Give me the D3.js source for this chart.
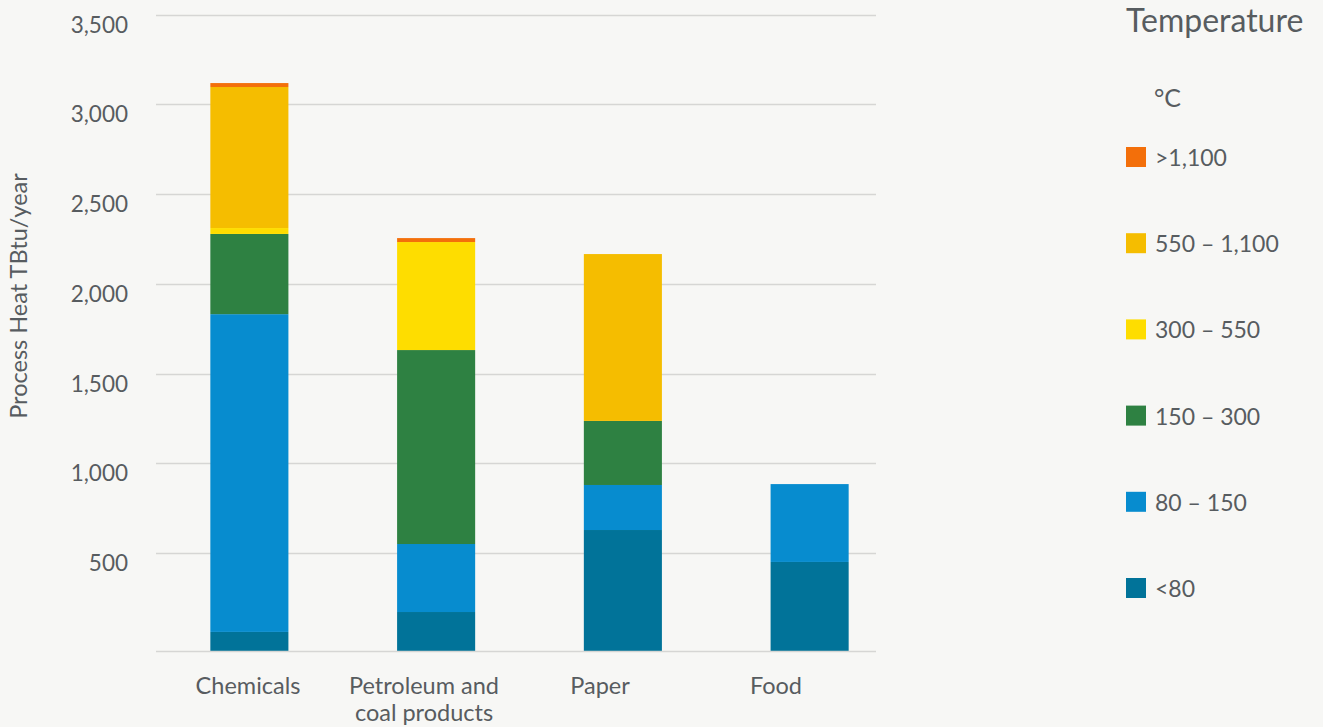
<!DOCTYPE html>
<html>
<head>
<meta charset="utf-8">
<script src="https://cdn.jsdelivr.net/npm/d3@7"></script>
<style>
  html, body { margin: 0; padding: 0; background: #f7f7f5; }
  svg { display: block; font-family: Lato, "Open Sans", sans-serif; }
</style>
</head>
<body>
<div id="chart"></div>
<script>
// industries on the x axis
const categories = ["Chemicals", "Petroleum and\ncoal products", "Paper", "Food"];

// process heat (TBtu/year) per temperature band, one value per industry
const lt80      = [60, 171, 628, 450];
const t80_150   = [1771, 379, 251, 434];
const t150_300  = [447, 1081, 357, 0];
const t300_550  = [33, 602, 0, 0];
const t550_1100 = [786, 0, 930, 0];
const gt1100    = [22, 22, 0, 0];

// legend order is top to bottom, stack order is bottom to top
const bandKeys   = ["<80", "80 – 150", "150 – 300", "300 – 550", "550 – 1,100", ">1,100"];
const bandValues = [lt80, t80_150, t150_300, t300_550, t550_1100, gt1100];
const bandColors = ["#017399", "#078ccf", "#2e8142", "#fedd00", "#f5bd00", "#f36f0a"];

const yTicks = [500, 1000, 1500, 2000, 2500, 3000, 3500];

const width = 1323, height = 727;
const textColor = "#575c60";

const rows = categories.map((c, i) => {
    const row = { category: c };
    bandKeys.forEach((k, j) => row[k] = bandValues[j][i]);
    return row;
});

const svg = d3.select("#chart").append("svg")
    .attr("width", width)
    .attr("height", height);

const plotLeft = 156, plotRight = 876, plotBottom = 651;

const x = d3.scaleBand()
    .domain(categories)
    .range([plotLeft, 903])
    .paddingInner(0.582)
    .paddingOuter(0.291);

// category labels sit a little left of the bars in the original
const xLabel = d3.scalePoint()
    .domain(categories)
    .range([248, 776]);

const y = d3.scaleLinear()
    .domain([0, 3500])
    .range([642.7, 14.7]);

const color = d3.scaleOrdinal().domain(bandKeys).range(bandColors);

// gridlines
svg.append("g")
    .selectAll("line")
    .data(yTicks)
    .join("line")
    .attr("x1", plotLeft)
    .attr("x2", plotRight)
    .attr("y1", d => Math.round(y(d)) + 0.5)
    .attr("y2", d => Math.round(y(d)) + 0.5)
    .attr("stroke", "#d6d6d4")
    .attr("stroke-width", 1.5);

// y axis labels
const yAxis = svg.append("g")
    .attr("transform", `translate(128,0)`)
    .call(d3.axisLeft(y).tickValues(yTicks).tickSize(0).tickPadding(0).tickFormat(d3.format(",")));
yAxis.select(".domain").remove();
yAxis.selectAll("text")
    .attr("fill", textColor)
    .attr("font-size", 22.5)
    .attr("font-family", "Lato, sans-serif")
    .attr("dy", "0.78em");

// stacked bars
const series = d3.stack().keys(bandKeys)(rows);

svg.append("g")
    .selectAll("g")
    .data(series)
    .join("g")
    .attr("fill", d => color(d.key))
    .selectAll("rect")
    .data(d => d.filter(s => s[1] - s[0] > 0))
    .join("rect")
    .attr("x", d => x(d.data.category))
    .attr("width", x.bandwidth())
    .attr("y", d => y(d[1]))
    .attr("height", d => (d[0] === 0 ? plotBottom : y(d[0])) - y(d[1]));

// baseline
svg.append("line")
    .attr("x1", plotLeft)
    .attr("x2", plotRight)
    .attr("y1", plotBottom + 0.5)
    .attr("y2", plotBottom + 0.5)
    .attr("stroke", "#d6d6d4")
    .attr("stroke-width", 1.5);

// x labels
svg.append("g")
    .selectAll("text")
    .data(categories)
    .join("text")
    .attr("x", d => xLabel(d))
    .attr("y", 694)
    .attr("text-anchor", "middle")
    .attr("fill", textColor)
    .attr("font-size", 23.5)
    .selectAll("tspan")
    .data(d => d.split("\n").map(t => ({ t, x: xLabel(d) })))
    .join("tspan")
    .attr("x", d => d.x)
    .attr("dy", (d, i) => i ? 27 : 0)
    .text(d => d.t);

// y axis title
svg.append("text")
    .attr("transform", "translate(27,296) rotate(-90)")
    .attr("text-anchor", "middle")
    .attr("fill", textColor)
    .attr("font-size", 23.5)
    .text("Process Heat TBtu/year");

// legend
svg.append("text")
    .attr("x", 1126)
    .attr("y", 32)
    .attr("fill", textColor)
    .attr("font-size", 32)
    .text("Temperature");

svg.append("text")
    .attr("x", 1154)
    .attr("y", 107)
    .attr("fill", textColor)
    .attr("font-size", 25)
    .text("°C");

const legendY = d3.scalePoint()
    .domain(bandKeys.slice().reverse())
    .range([157, 588]);

const legend = svg.append("g")
    .selectAll("g")
    .data(bandKeys.slice().reverse())
    .join("g")
    .attr("transform", d => `translate(1126,${legendY(d)})`);

legend.append("rect")
    .attr("y", -10)
    .attr("width", 20)
    .attr("height", 20)
    .attr("fill", d => color(d));

legend.append("text")
    .attr("x", 29)
    .attr("y", 9)
    .attr("fill", textColor)
    .attr("font-size", 23)
    .text(d => d);
</script>
</body>
</html>
